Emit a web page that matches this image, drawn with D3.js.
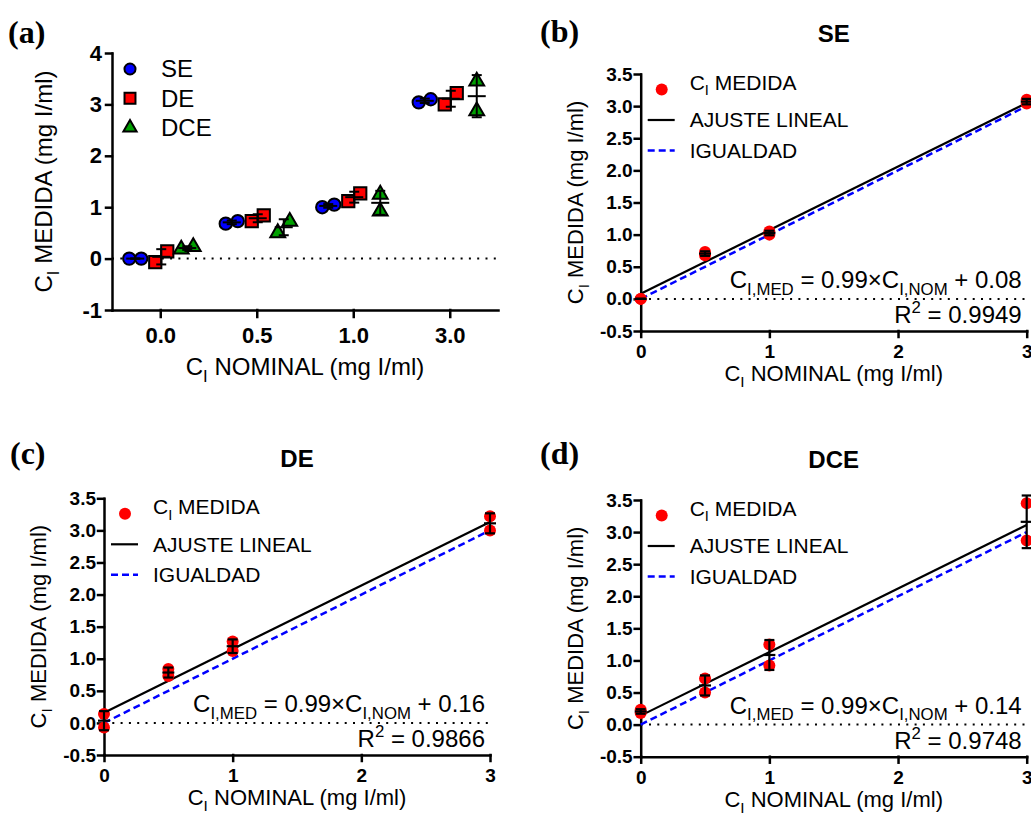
<!DOCTYPE html>
<html>
<head>
<meta charset="utf-8">
<title>C_I medida vs nominal</title>
<script src="https://cdn.jsdelivr.net/npm/d3@7"></script>
<style>
body { margin: 0; background: #fff; }
svg { font-family: "Liberation Sans", Arial, sans-serif; }
.axis path, .axis line { stroke: #000; stroke-width: 2.5px; stroke-linecap: square; }
.axis text { font-weight: bold; fill: #000; }
</style>
</head>
<body>
<script>

// data
var categoryLabels = ["0.0", "0.5", "1.0", "3.0"];
var nominal = [0, 0.5, 1, 3];
var groups = ["SE", "DE", "DCE"];
var seValues  = [[0.00, 0.00], [0.68, 0.73], [1.00, 1.05], [3.04, 3.10]];
var deValues  = [[-0.07, 0.14], [0.73, 0.84], [1.12, 1.27], [3.00, 3.22]];
var dceValues = [[0.18, 0.23], [0.50, 0.72], [0.92, 1.25], [2.87, 3.45]];
var fitSlopes = [0.99, 0.99, 0.99];
var fitIntercepts = ["0.08", "0.16", "0.14"];
var rSquared = ["0.9949", "0.9866", "0.9748"];
var panelLetters = ["(a)", "(b)", "(c)", "(d)"];
var yTicksA = [-1, 0, 1, 2, 3, 4];
var yTicksFit = [-0.5, 0, 0.5, 1, 1.5, 2, 2.5, 3, 3.5];
var xTicksFit = [0, 1, 2, 3];
var legendFit = ["MEDIDA", "AJUSTE LINEAL", "IGUALDAD"];

var groupValues = [seValues, deValues, dceValues];

var styles = {
  SE:  {type: d3.symbolCircle,   size: 120, fill: "#0000ff"},
  DE:  {type: d3.symbolSquare,   size: 150, fill: "#ff0000"},
  DCE: {type: d3.symbolTriangle, size: 95,  fill: "#00a000"}
};

var W = 1031, H = 818;

var svg = d3.select("body").append("svg")
    .attr("width", W)
    .attr("height", H);

// text with sub / superscripts
function richText(sel, parts, size) {
  var shift = 0;
  parts.forEach(function(p) {
    var ts = sel.append("tspan").text(p.t);
    var target = p.sub ? size * 0.28 : (p.sup ? -size * 0.42 : 0);
    if (p.sub || p.sup) ts.attr("font-size", size * 0.7);
    ts.attr("dy", target - shift);
    shift = target;
  });
}

function styleAxis(g, size) {
  g.attr("font-size", size).attr("font-family", null);
  g.select(".domain").attr("stroke", "#000");
}

var panelPos = [{x: 8, y: 32}, {x: 540, y: 31}, {x: 10, y: 453}, {x: 540, y: 453}];
svg.selectAll("text.panel")
    .data(panelLetters)
  .enter().append("text")
    .attr("class", "panel")
    .attr("x", function(d, i) { return panelPos[i].x; })
    .attr("y", function(d, i) { return panelPos[i].y; })
    .attr("dy", "0.35em")
    .attr("font-family", "'Liberation Serif', 'Times New Roman', serif")
    .attr("font-weight", "bold")
    .attr("font-size", 32)
    .text(function(d) { return d; });

// ---------- panel (a) ----------
var xA = d3.scalePoint().domain(categoryLabels).range([112, 498]).padding(0.5);
var xSub = d3.scalePoint().domain(groups).range([-25, 27]);
var yA = d3.scaleLinear().domain([-1, 4]).range([310, 53]);

var gA = svg.append("g");

gA.append("line")
    .attr("x1", 112).attr("x2", 498)
    .attr("y1", yA(0)).attr("y2", yA(0))
    .attr("stroke", "#000")
    .attr("stroke-width", 2)
    .attr("stroke-dasharray", "2,6.3");

gA.append("g")
    .attr("class", "axis")
    .attr("transform", "translate(0," + yA(-1) + ")")
    .call(d3.axisBottom(xA).tickSize(7).tickPadding(10).tickSizeOuter(0))
    .call(styleAxis, 22);

gA.append("g")
    .attr("class", "axis")
    .attr("transform", "translate(112,0)")
    .call(d3.axisLeft(yA).tickValues(yTicksA).tickSize(6).tickPadding(4)
      .tickFormat(function(d) { return String(d); }).tickSizeOuter(0))
    .call(styleAxis, 22);

groups.forEach(function(name, gi) {
  var st = styles[name];
  groupValues[gi].forEach(function(vals, ci) {
    var cx = xA(categoryLabels[ci]) + xSub(name);
    var sorted = vals.slice().sort(d3.ascending);
    var spread = Math.abs(yA(sorted[0]) - yA(sorted[1])) < 13;
    sorted.forEach(function(v, k) {
      var dx = spread ? (k === 0 ? -6 : 6) : 0;
      gA.append("path")
          .attr("d", d3.symbol().type(st.type).size(st.size)())
          .attr("transform", "translate(" + (cx + dx) + "," + yA(v) + ")")
          .attr("fill", st.fill)
          .attr("stroke", "#000")
          .attr("stroke-width", 2);
    });
    var m = d3.mean(vals), sd = d3.deviation(vals);
    var eb = gA.append("g").attr("stroke", "#000").attr("stroke-width", 2);
    eb.append("line").attr("x1", cx).attr("x2", cx).attr("y1", yA(m - sd)).attr("y2", yA(m + sd));
    eb.append("line").attr("x1", cx - 5).attr("x2", cx + 5).attr("y1", yA(m - sd)).attr("y2", yA(m - sd));
    eb.append("line").attr("x1", cx - 5).attr("x2", cx + 5).attr("y1", yA(m + sd)).attr("y2", yA(m + sd));
    eb.append("line").attr("x1", cx - 9).attr("x2", cx + 9).attr("y1", yA(m)).attr("y2", yA(m));
  });
});

var legA = gA.selectAll("g.leg")
    .data(groups)
  .enter().append("g")
    .attr("class", "leg")
    .attr("transform", function(d, i) { return "translate(130," + (69 + i * 29.3) + ")"; });
legA.append("path")
    .attr("d", function(d) { return d3.symbol().type(styles[d].type).size(styles[d].size * 0.8)(); })
    .attr("fill", function(d) { return styles[d].fill; })
    .attr("stroke", "#000")
    .attr("stroke-width", 2);
legA.append("text")
    .attr("x", 31)
    .attr("dy", "0.35em")
    .attr("font-size", 24)
    .text(function(d) { return d; });

gA.append("text")
    .attr("transform", "translate(52," + ((yA(-1) + yA(4)) / 2) + ") rotate(-90)")
    .attr("text-anchor", "middle")
    .attr("dy", "0.35em")
    .attr("font-size", 24)
    .call(richText, [{t: "C"}, {t: "I", sub: true}, {t: " MEDIDA (mg I/ml)"}], 24);

gA.append("text")
    .attr("x", 305)
    .attr("y", 375)
    .attr("text-anchor", "middle")
    .attr("dy", "0.35em")
    .attr("font-size", 24)
    .call(richText, [{t: "C"}, {t: "I", sub: true}, {t: " NOMINAL (mg I/ml)"}], 24);

// ---------- panels (b), (c), (d) ----------
var fitLayout = [
  {x0: 640.7, x1: 1026.7, yTop: 74,    yBot: 331},
  {x0: 104,   x1: 490,    yTop: 498.3, yBot: 755},
  {x0: 640.7, x1: 1026.7, yTop: 500,   yBot: 756.7}
];

function fitPanel(pi) {
  var L = fitLayout[pi];
  var vals = groupValues[pi];
  var x = d3.scaleLinear().domain([0, 3]).range([L.x0, L.x1]);
  var y = d3.scaleLinear().domain([-0.5, 3.5]).range([L.yBot, L.yTop]);
  var g = svg.append("g");
  var line = d3.line().x(function(d) { return x(d[0]); }).y(function(d) { return y(d[1]); });

  g.append("text")
      .attr("x", (L.x0 + L.x1) / 2)
      .attr("y", L.yTop - 40)
      .attr("dy", "0.35em")
      .attr("text-anchor", "middle")
      .attr("font-weight", "bold")
      .attr("font-size", 24)
      .text(groups[pi]);

  g.append("line")
      .attr("x1", x(0)).attr("x2", x(3))
      .attr("y1", y(0)).attr("y2", y(0))
      .attr("stroke", "#000")
      .attr("stroke-width", 2)
      .attr("stroke-dasharray", "2,6.3");

  g.append("g")
      .attr("class", "axis")
      .attr("transform", "translate(0," + y(-0.5) + ")")
      .call(d3.axisBottom(x).tickValues(xTicksFit).tickFormat(d3.format("d"))
        .tickSize(6).tickPadding(8).tickSizeOuter(0))
      .call(styleAxis, 19);

  g.append("g")
      .attr("class", "axis")
      .attr("transform", "translate(" + x(0) + ",0)")
      .call(d3.axisLeft(y).tickValues(yTicksFit).tickFormat(function(d) { return d.toFixed(1); })
        .tickSize(6).tickPadding(2).tickSizeOuter(0))
      .call(styleAxis, 19);

  // identity and fit lines
  g.append("path")
      .attr("d", line([[0, 0], [3, 3]]))
      .attr("fill", "none")
      .attr("stroke", "#0000ff")
      .attr("stroke-width", 2.5)
      .attr("stroke-dasharray", "7,4");
  var b = +fitIntercepts[pi], a = fitSlopes[pi];
  g.append("path")
      .attr("d", line([[0, b], [3, a * 3 + b]]))
      .attr("fill", "none")
      .attr("stroke", "#000")
      .attr("stroke-width", 2.2);

  var pts = [];
  nominal.forEach(function(n, i) {
    vals[i].forEach(function(v) { pts.push([n, v]); });
  });
  g.selectAll("circle.pt")
      .data(pts)
    .enter().append("circle")
      .attr("class", "pt")
      .attr("cx", function(d) { return x(d[0]); })
      .attr("cy", function(d) { return y(d[1]); })
      .attr("r", 6)
      .attr("fill", "#ff0000");

  nominal.forEach(function(n, i) {
    var m = d3.mean(vals[i]), sd = d3.deviation(vals[i]), cx = x(n);
    var eb = g.append("g").attr("stroke", "#000").attr("stroke-width", 2.2);
    eb.append("line").attr("x1", cx).attr("x2", cx).attr("y1", y(m - sd)).attr("y2", y(m + sd));
    eb.append("line").attr("x1", cx - 5).attr("x2", cx + 5).attr("y1", y(m - sd)).attr("y2", y(m - sd));
    eb.append("line").attr("x1", cx - 5).attr("x2", cx + 5).attr("y1", y(m + sd)).attr("y2", y(m + sd));
    eb.append("line").attr("x1", cx - 6).attr("x2", cx + 6).attr("y1", y(m)).attr("y2", y(m));
  });

  // legend
  var ly = L.yTop + 15.5, lx = L.x0;
  var leg = g.selectAll("g.leg")
      .data(legendFit)
    .enter().append("g")
      .attr("class", "leg")
      .attr("transform", function(d, i) { return "translate(" + lx + "," + (ly + i * 30.5) + ")"; });
  leg.filter(function(d, i) { return i === 0; }).append("circle")
      .attr("cx", 21).attr("r", 6).attr("fill", "#ff0000");
  leg.filter(function(d, i) { return i === 1; }).append("line")
      .attr("x1", 7).attr("x2", 34).attr("stroke", "#000").attr("stroke-width", 2.2);
  leg.filter(function(d, i) { return i === 2; }).append("line")
      .attr("x1", 7).attr("x2", 34).attr("stroke", "#0000ff").attr("stroke-width", 2.5)
      .attr("stroke-dasharray", "7,4");
  leg.append("text")
      .attr("x", 49)
      .attr("dy", "0.35em")
      .attr("font-size", 21)
      .each(function(d, i) {
        var t = d3.select(this);
        if (i === 0) richText(t, [{t: "C"}, {t: "I", sub: true}, {t: " " + d}], 21);
        else t.text(d);
      });

  // equation and R²
  g.append("text")
      .attr("x", x(3) - 5)
      .attr("y", y(0) - 11)
      .attr("text-anchor", "end")
      .attr("font-size", 24)
      .call(richText, [{t: "C"}, {t: "I,MED", sub: true},
        {t: " = " + fitSlopes[pi].toFixed(2) + "\u00d7C"}, {t: "I,NOM", sub: true},
        {t: " + " + fitIntercepts[pi]}], 24);
  g.append("text")
      .attr("x", x(3) - 5)
      .attr("y", y(0) + 24)
      .attr("text-anchor", "end")
      .attr("font-size", 24)
      .call(richText, [{t: "R"}, {t: "2", sup: true}, {t: " = " + rSquared[pi]}], 24);

  // axis titles
  g.append("text")
      .attr("transform", "translate(" + (L.x0 - 58) + "," + ((L.yTop + L.yBot) / 2) + ") rotate(-90)")
      .attr("text-anchor", "middle")
      .attr("dy", "0.35em")
      .attr("font-size", 22)
      .call(richText, [{t: "C"}, {t: "I", sub: true}, {t: " MEDIDA (mg I/ml)"}], 22);
  g.append("text")
      .attr("x", (L.x0 + L.x1) / 2)
      .attr("y", L.yBot + 50)
      .attr("text-anchor", "middle")
      .attr("dy", "0.35em")
      .attr("font-size", 22)
      .call(richText, [{t: "C"}, {t: "I", sub: true}, {t: " NOMINAL (mg I/ml)"}], 22);
}

[0, 1, 2].forEach(fitPanel);

</script>
</body>
</html>
